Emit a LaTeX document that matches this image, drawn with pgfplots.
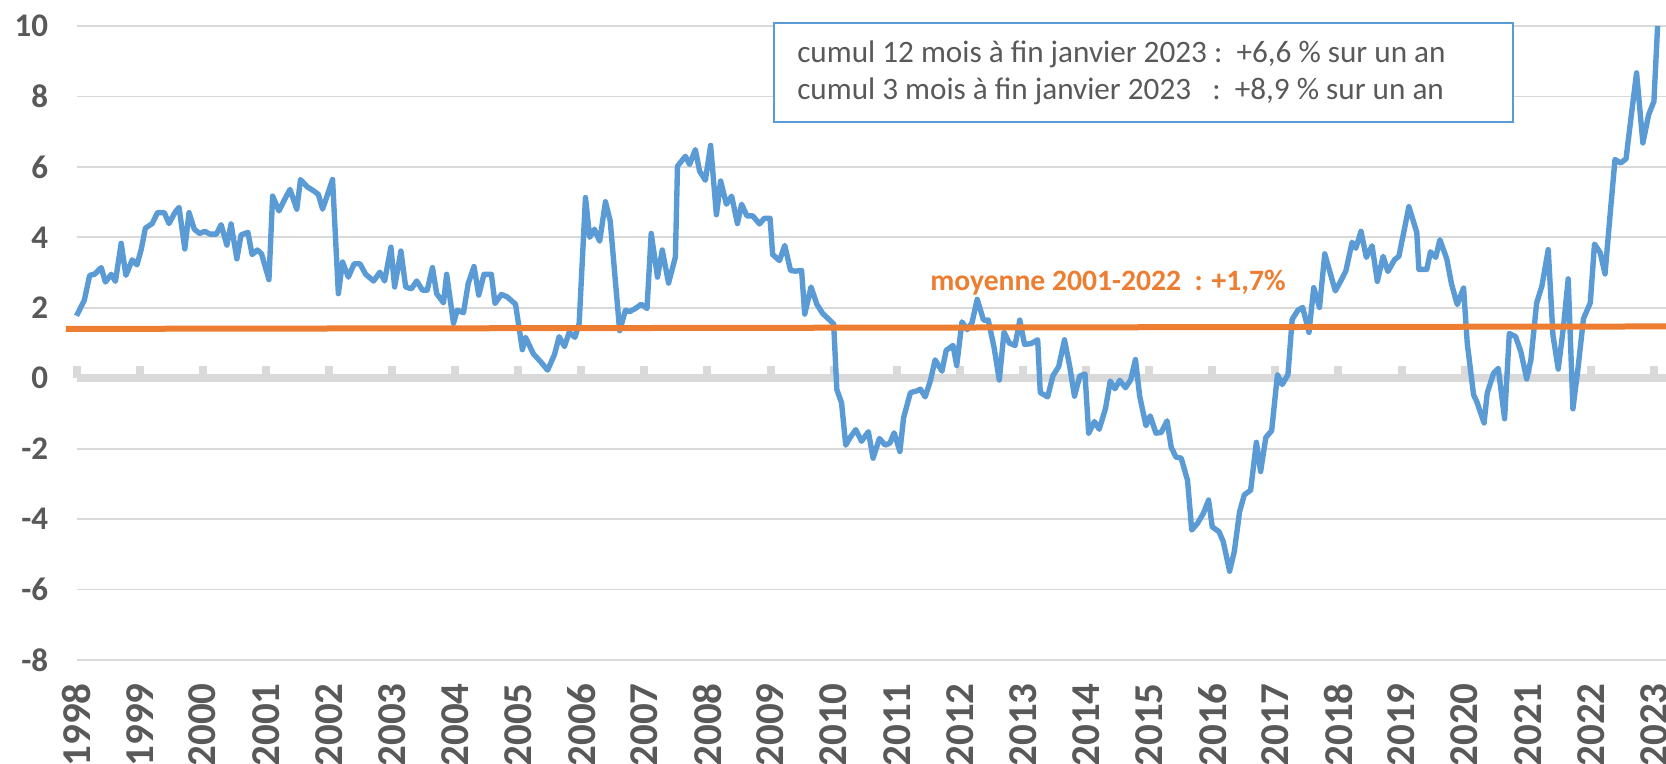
\documentclass[border=0pt]{standalone}
\usepackage{fontspec}
\setmainfont{Carlito}
\usepackage{pgfplots}
\pgfplotsset{compat=1.18}
\definecolor{lineblue}{HTML}{5B9BD5}
\definecolor{meanorange}{HTML}{ED7D31}
\definecolor{gridgray}{HTML}{D9D9D9}
\definecolor{labgray}{HTML}{595959}
\begin{document}
\begin{tikzpicture}
\begin{axis}[
  name=ax,
  scale only axis,
  width=794.75pt, height=317pt,
  xmin=0, xmax=302.3,
  ymin=-8, ymax=10,
  ytick={-8,-6,...,10},
  xtick={0,12,...,300},
  xticklabels={1998,1999,2000,2001,2002,2003,2004,2005,2006,2007,2008,2009,2010,2011,2012,2013,2014,2015,2016,2017,2018,2019,2020,2021,2022,2023},
  ymajorgrids,
  grid style={draw=gridgray, line width=0.85pt},
  axis line style={draw=none},
  major tick length=0pt,
  clip=false,
  /pgf/number format/assume math mode=true,
  yticklabel style={font=\fontsize{16.5}{18}\selectfont\bfseries, text=labgray, inner sep=0pt, anchor=east, xshift=-14pt},
  xticklabel style={font=\fontsize{20.5}{22}\selectfont\bfseries, text=labgray, inner sep=0pt, rotate=90, anchor=east, xshift=-11.5pt},
]
% axe du zero et ses graduations
\addplot[draw=gridgray, line width=3.8pt, forget plot] coordinates {(0,0) (302.3,0)};
\addplot[ycomb, draw=gridgray, line width=4pt, forget plot] coordinates {
  (0,0.35) (12,0.35) (24,0.35) (36,0.35) (48,0.35) (60,0.35) (72,0.35) (84,0.35) (96,0.35)
  (108,0.35) (120,0.35) (132,0.35) (144,0.35) (156,0.35) (168,0.35) (180,0.35) (192,0.35)
  (204,0.35) (216,0.35) (228,0.35) (240,0.35) (252,0.35) (264,0.35) (276,0.35) (288,0.35) (300,0.35)
};
% glissement annuel, mois depuis janvier 1998
\addplot[draw=lineblue, line width=2.7pt, line join=round] coordinates {
  (0,1.77) (1.5,2.22) (2.5,2.92) (3.4,2.95) (4.7,3.14) (5.5,2.73) (6.6,2.95) (7.4,2.75)
  (8.5,3.83) (9.4,2.92) (10.6,3.36) (11.5,3.22) (12.3,3.65) (13.1,4.26) (14.4,4.39) (15.4,4.70)
  (16.7,4.70) (17.6,4.39) (18.7,4.70) (19.5,4.85) (20.6,3.67) (21.4,4.70) (22.4,4.23) (23.4,4.11)
  (24.4,4.17) (25.4,4.09) (26.6,4.09) (27.5,4.36) (28.6,3.78) (29.4,4.38) (30.5,3.39) (31.3,4.07)
  (32.6,4.14) (33.4,3.51) (34.4,3.64) (35.2,3.53) (36.6,2.80) (37.3,5.17) (38.5,4.75) (39.6,5.08)
  (40.6,5.36) (41.9,4.80) (42.6,5.64) (43.9,5.43) (45.0,5.33) (46.0,5.22) (46.8,4.80) (47.8,5.24)
  (48.7,5.64) (49.8,2.40) (50.6,3.30) (51.7,2.87) (52.8,3.25) (53.9,3.25) (55.0,2.95) (56.5,2.76)
  (57.7,3.01) (58.6,2.76) (59.8,3.72) (60.5,2.59) (61.7,3.61) (62.6,2.59) (63.7,2.54) (64.7,2.76)
  (65.8,2.50) (66.7,2.50) (67.7,3.14) (68.5,2.40) (69.8,2.14) (70.4,2.95) (71.7,1.56) (72.4,1.93)
  (73.6,1.86) (74.5,2.69) (75.6,3.17) (76.5,2.36) (77.5,2.95) (78.9,2.95) (79.6,2.12) (80.8,2.38)
  (81.9,2.31) (83.5,2.10) (84.8,0.81) (85.4,1.16) (86.9,0.69) (88.2,0.48) (89.6,0.23) (90.9,0.67)
  (91.8,1.18) (92.8,0.90) (93.7,1.30) (94.8,1.16) (95.6,1.56) (96.8,5.13) (97.6,4.00) (98.5,4.23)
  (99.5,3.89) (100.6,5.01) (101.5,4.47) (103.3,1.35) (104.4,1.93) (105.2,1.89) (106.3,1.98) (107.4,2.10)
  (108.5,1.98) (109.3,4.11) (110.5,2.87) (111.4,3.64) (112.6,2.70) (113.9,3.44) (114.3,6.02) (115.8,6.30)
  (116.6,6.07) (117.7,6.49) (118.5,5.88) (119.6,5.62) (120.6,6.61) (121.7,4.64) (122.5,5.60) (123.6,4.94)
  (124.6,5.17) (125.7,4.39) (126.5,4.94) (127.5,4.61) (128.6,4.61) (129.9,4.38) (130.8,4.54) (131.9,4.54)
  (132.4,3.51) (133.7,3.34) (134.7,3.77) (135.8,3.06) (136.7,3.04) (137.9,3.06) (138.5,1.82) (139.7,2.59)
  (140.8,2.10) (141.9,1.84) (142.9,1.70) (144.0,1.54) (144.6,-0.32) (145.5,-0.70) (146.3,-1.90) (147.1,-1.69)
  (148.2,-1.46) (149.3,-1.79) (150.6,-1.52) (151.5,-2.27) (152.7,-1.71) (153.8,-1.90) (154.7,-1.84) (155.5,-1.55)
  (156.6,-2.08) (157.3,-1.12) (158.6,-0.41) (159.8,-0.36) (160.5,-0.31) (161.4,-0.53) (162.4,-0.07) (163.3,0.52)
  (164.6,0.20) (165.4,0.79) (166.7,0.93) (167.4,0.36) (168.4,1.60) (169.4,1.38) (170.3,1.57) (171.3,2.24)
  (172.5,1.65) (173.4,1.65) (174.5,0.88) (175.5,-0.05) (176.4,1.31) (177.4,1.00) (178.5,0.93) (179.4,1.65)
  (180.3,0.96) (181.5,0.98) (182.8,1.09) (183.3,-0.41) (184.7,-0.53) (185.7,0.07) (186.8,0.33) (187.9,1.09)
  (188.9,0.33) (189.8,-0.51) (190.8,0.06) (191.8,0.12) (192.5,-1.56) (193.6,-1.23) (194.5,-1.45) (195.7,-0.86)
  (196.6,-0.08) (197.5,-0.30) (198.4,-0.06) (199.5,-0.27) (200.5,-0.04) (201.4,0.53) (202.2,-0.51) (203.4,-1.35)
  (204.2,-1.07) (205.3,-1.56) (206.3,-1.54) (207.4,-1.21) (208.2,-1.96) (209.1,-2.24) (210.1,-2.27) (211.3,-2.90)
  (212.1,-4.31) (213.2,-4.12) (214.3,-3.84) (215.3,-3.46) (216.0,-4.22) (217.3,-4.36) (218.1,-4.64) (219.3,-5.48)
  (220.2,-4.92) (221.2,-3.79) (222.1,-3.31) (223.3,-3.18) (224.4,-1.82) (225.2,-2.65) (226.2,-1.68) (227.3,-1.49)
  (228.4,0.10) (229.3,-0.18) (230.4,0.10) (231.2,1.67) (232.3,1.93) (233.2,2.01) (234.4,1.30) (235.3,2.57)
  (236.4,2.01) (237.4,3.53) (239.4,2.48) (240.3,2.72) (241.4,3.04) (242.6,3.86) (243.3,3.69) (244.3,4.17)
  (245.3,3.43) (246.4,3.76) (247.4,2.75) (248.5,3.46) (249.4,3.03) (250.7,3.37) (251.5,3.46) (253.4,4.87)
  (254.9,4.14) (255.3,3.09) (256.8,3.09) (257.5,3.59) (258.5,3.43) (259.3,3.93) (260.6,3.39) (261.5,2.68)
  (262.6,2.09) (263.8,2.56) (264.5,0.99) (265.7,-0.47) (266.3,-0.66) (267.7,-1.27) (268.3,-0.42) (269.5,0.14)
  (270.4,0.28) (271.6,-1.15) (272.5,1.27) (273.7,1.18) (274.7,0.75) (275.8,-0.02) (276.6,0.52) (277.7,2.14)
  (278.7,2.62) (279.9,3.65) (280.8,1.22) (281.8,0.26) (282.8,1.46) (283.7,2.82) (284.6,-0.87) (285.6,0.33)
  (286.6,1.69) (287.9,2.14) (288.7,3.81) (289.8,3.56) (290.7,2.96) (291.7,4.70) (292.6,6.21) (293.7,6.11)
  (294.7,6.23) (295.6,7.34) (296.7,8.67) (297.9,6.68) (299.0,7.48) (300.0,7.86) (300.7,10.0)
};
% moyenne 2001-2022
\addplot[draw=meanorange, line width=3pt] coordinates {(-2.0,1.40) (302.3,1.47)};
\node[anchor=west, text=meanorange, font=\fontsize{14.8}{16}\selectfont\bfseries, inner sep=0pt]
  at (axis cs:162.3,2.70) {moyenne 2001-2022\ \ : +1,7\%};
% encadre
\draw[draw=lineblue, line width=1pt, fill=white] (axis cs:132.6,10.085) rectangle (axis cs:273.2,7.27);
\node[anchor=west, inner sep=0pt, align=left, text=labgray, font=\fontsize{15.6}{18.5}\selectfont]
  at (axis cs:137.0,8.68) {cumul 12 mois à fin janvier 2023 :\ \ +6,6 \% sur un an\\
  cumul 3 mois à fin janvier 2023\ \ \ :\ \ +8,9 \% sur un an};
\end{axis}
\pgfresetboundingbox
\path[use as bounding box] (-38.25pt,-52pt) rectangle (794.75pt,330pt);
\end{tikzpicture}
\end{document}
